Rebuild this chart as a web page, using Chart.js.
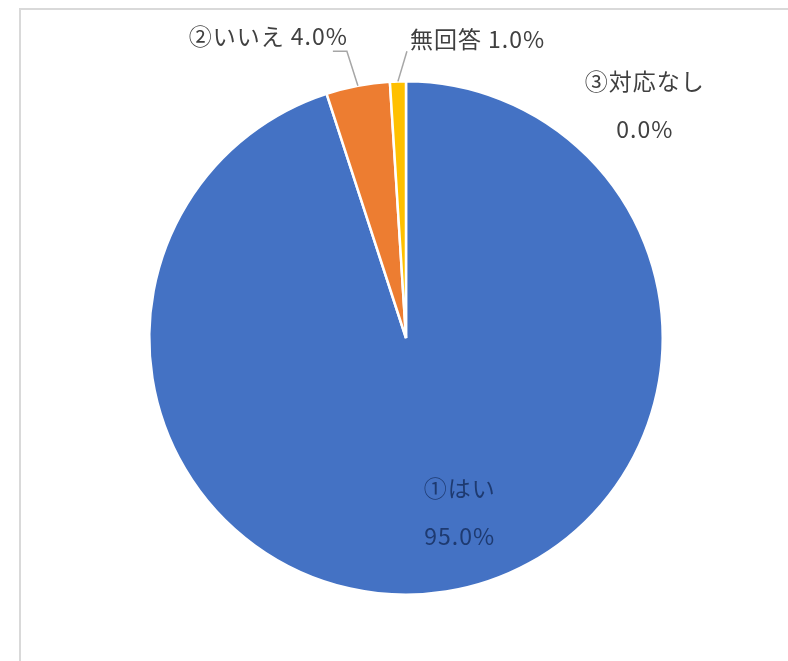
<!DOCTYPE html>
<html>
<head>
<meta charset="utf-8">
<script src="https://cdn.jsdelivr.net/npm/chart.js@4/dist/chart.umd.min.js"></script>
<style>
  html, body { margin: 0; padding: 0; background: #fff; }
  #wrap { position: relative; width: 788px; height: 661px; overflow: hidden; }
  #frame { position: absolute; left: 19px; top: 8px; right: -4px; bottom: -4px;
           border-left: 2px solid #d9d9d9; border-top: 2px solid #d9d9d9; }
  #pie { position: absolute; left: 0; top: 0; }
</style>
</head>
<body>
<div id="wrap">
  <div id="frame"></div>
  <canvas id="pie" width="788" height="661"></canvas>
</div>
<script>
const labels  = ["①はい", "②いいえ", "③対応なし", "無回答"];
const values  = [95.0, 4.0, 0.0, 1.0];
const colors  = ["#4472C4", "#ED7D31", "#A5A5A5", "#FFC000"];

const FONT = '"Noto Sans CJK JP", "Noto Sans", sans-serif';
const TEXT = "#404040";

function pct(v) { return v.toFixed(1) + "%"; }

// point on a circle, angle in chart.js radians (0 = 3 o'clock)
function polar(cx, cy, r, a) {
  return { x: cx + r * Math.cos(a), y: cy + r * Math.sin(a) };
}

const pieLabels = {
  id: "pieLabels",
  afterDatasetsDraw(chart) {
    const ctx = chart.ctx;
    const arcs = chart.getDatasetMeta(0).data;
    ctx.save();
    ctx.font = "23px " + FONT;
    ctx.letterSpacing = "1px";
    ctx.textBaseline = "middle";

    // big slice: two lines inside, nudged right of the bisector
    {
      const a = arcs[0];
      const mid = (a.startAngle + a.endAngle) / 2;
      const p = polar(a.x, a.y, a.outerRadius * 0.69, mid);
      ctx.fillStyle = "#1e3a70";
      ctx.textAlign = "center";
      ctx.fillText(labels[0], p.x + 26, p.y - 25);
      ctx.fillText(pct(values[0]), p.x + 26, p.y + 23);
    }

    // small slices: leader line up to a label above the pie
    ctx.strokeStyle = "#a6a6a6";
    ctx.lineWidth = 1.5;
    [1, 3].forEach(i => {
      const a = arcs[i];
      const mid = (a.startAngle + a.endAngle) / 2;
      const s = polar(a.x, a.y, a.outerRadius, mid);
      const text = labels[i] + " " + pct(values[i]);
      ctx.beginPath();
      ctx.moveTo(s.x, s.y);
      if (i === 1) {
        const ex = s.x - 11, ey = a.y - a.outerRadius - 30;
        ctx.lineTo(ex, ey);
        ctx.lineTo(ex - 14, ey);
        ctx.stroke();
        ctx.fillStyle = TEXT;
        ctx.textAlign = "right";
        ctx.fillText(text, ex + 1, ey - 15);
      } else {
        const ex = s.x + 9, ey = a.y - a.outerRadius - 30;
        ctx.lineTo(ex, ey);
        ctx.stroke();
        ctx.fillStyle = TEXT;
        ctx.textAlign = "left";
        ctx.fillText(text, ex + 3, ey - 12);
      }
    });

    // zero slice: label off to the upper right
    {
      const a = arcs[2];
      const x = a.x + a.outerRadius * 0.93;
      const y = a.y - a.outerRadius;
      ctx.fillStyle = TEXT;
      ctx.textAlign = "center";
      ctx.fillText(labels[2], x, y);
      ctx.fillText(pct(values[2]), x, y + 48);
    }
    ctx.restore();
  }
};

new Chart(document.getElementById("pie"), {
  type: "pie",
  data: {
    labels: labels,
    datasets: [{
      data: values,
      backgroundColor: colors,
      borderColor: "#ffffff",
      borderWidth: 2.5
    }]
  },
  options: {
    responsive: false,
    animation: false,
    layout: { padding: { top: 79, bottom: 64, left: 148, right: 124 } },
    plugins: {
      legend: { display: false },
      tooltip: { enabled: false }
    }
  },
  plugins: [pieLabels]
});
</script>
</body>
</html>
